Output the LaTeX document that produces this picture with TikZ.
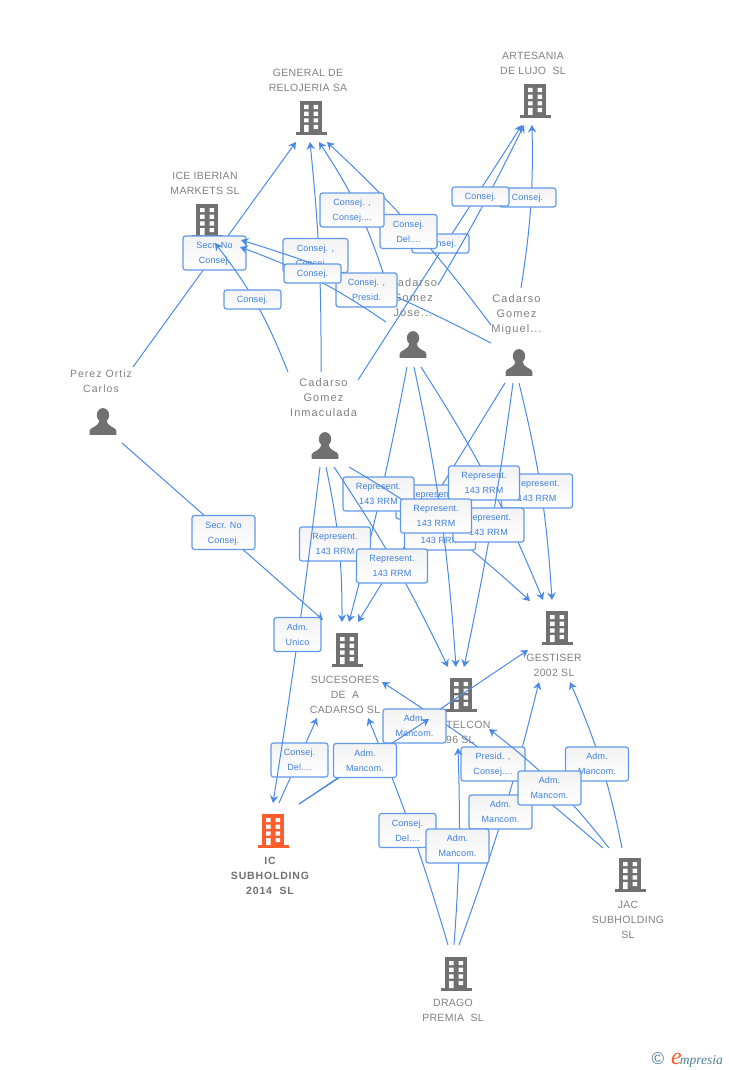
\documentclass[tikz,border=0pt]{standalone}
\usepackage{fontspec}
\setmainfont{Liberation Sans}
\newfontfamily\tagfont[LetterSpace=1.5]{Liberation Sans}
\newfontfamily\entfont[LetterSpace=3]{Liberation Sans}
\newfontfamily\perfont[LetterSpace=10]{Liberation Sans}
\newfontfamily\icsfont[LetterSpace=8]{Liberation Sans}
\newfontfamily\logofont{Liberation Serif}
\usetikzlibrary{arrows.meta}
\definecolor{iconc}{HTML}{707070}
\definecolor{redc}{HTML}{FF5B2B}
\definecolor{linkc}{HTML}{4A8AE6}
\definecolor{boxc}{HTML}{6199EA}
\definecolor{tagc}{HTML}{3D80E0}
\definecolor{entc}{HTML}{808080}
\definecolor{logoc}{HTML}{4E7F96}
\tikzset{
	bldg/.style={minimum width=34pt,minimum height=36pt,inner sep=0pt,
		path picture={\begin{scope}[shift={(path picture bounding box.center)}]
			\fill [#1] (-11,-17) rectangle (11,15);
			\fill [#1] (-15.5,14) rectangle (15.5,17);
			\foreach \wy in {-13,-6.3,.3}
				\fill [white] (-7,\wy) rectangle (-2.5,\wy+4.2) (2.5,\wy) rectangle (7.2,\wy+4.2);
			\fill [white] (2.5,7) rectangle (7.2,11.2) (-7,7) rectangle (-2.5,14);
		\end{scope}}},
	bldg/.default=iconc,
	persn/.style={minimum width=28pt,minimum height=28pt,inner sep=0pt,
		path picture={\begin{scope}[shift={(path picture bounding box.center)}]
			\fill [iconc] (0,-6.4) ellipse (6.2 and 7);
			\fill [iconc] (-13.3,13.4) -- (-13.3,9) .. controls (-13,5.5) and (-4.5,6) .. (-3.8,-1) -- (3.8,-1) .. controls (4.5,6) and (13,5.5) .. (13.3,9) -- (13.3,13.4) -- cycle;
		\end{scope}}},
	ent/.style={font=\entfont\fontsize{10.5}{15}\selectfont,text=entc,align=center,inner sep=0pt},
	per/.style={font=\perfont\fontsize{11}{15}\selectfont,text=entc,align=center,inner sep=0pt},
	link/.style={linkc,line width=1pt,-{Stealth[length=7.5pt,width=8.5pt,inset=2.5pt]}},
	tag/.style={draw=boxc,line width=1.2pt,rounded corners=2.5pt,top color=black!5,bottom color=white,inner sep=0pt,
		font=\tagfont\fontsize{9}{15}\selectfont,text=tagc,align=center,text depth=-.5pt,minimum width=#1pt},
	tagtwo/.style={tag=#1,minimum height=34pt},
	tagone/.style={tag=#1,minimum height=19pt}
}
\begin{document}
\begin{tikzpicture}[x=1pt,y=-1pt]
	\useasboundingbox (0,0) rectangle (728,1070);
	\node [bldg] (gen) at (311,118) {};
	\node [bldg] (art) at (535,101) {};
	\node [bldg] (ice) at (207,221) {};
	\node [bldg] (ges) at (557,628) {};
	\node [bldg] (suc) at (347,650) {};
	\node [bldg] (tel) at (461,695) {};
	\node [bldg=redc] (ics) at (273,831) {};
	\node [bldg] (jac) at (630,875) {};
	\node [bldg] (dra) at (456,974) {};
	\node [persn] (prz) at (103,421.5) {};
	\node [persn] (inm) at (325,445.5) {};
	\node [persn] (jos) at (413,344.5) {};
	\node [persn] (mig) at (519,362.5) {};
	\node [ent] (genT) at (308,80) {GENERAL DE\\RELOJERIA SA};
	\node [ent] (artT) at (533,63) {ARTESANIA\\DE LUJO ~SL};
	\node [ent] (iceT) at (205,183) {ICE IBERIAN\\MARKETS SL};
	\node [ent] (gesT) at (554,665) {GESTISER\\2002 SL};
	\node [ent] (sucT) at (345,694.5) {SUCESORES\\DE ~A\\CADARSO SL};
	\node [ent,align=left,anchor=west] (telT) at (446,732) {TELCON\\96 SL};
	\node [ent] (jacT) at (628,919.5) {JAC\\SUBHOLDING\\SL};
	\node [ent] (draT) at (453,1010) {DRAGO\\PREMIA ~SL};
	\node [ent,font=\icsfont\bfseries\fontsize{10.5}{15}\selectfont,text=iconc] (icsT) at (270,875.5) {IC\\SUBHOLDING\\2014 ~SL};
	\node [per,font=\perfont\fontsize{10.5}{15}\selectfont] (przT) at (101,381.5) {Perez Ortiz\\Carlos};
	\node [per] (inmT) at (323.5,398) {Cadarso\\Gomez\\Inmaculada};
	\node [per] (josT) at (413,298) {Cadarso\\Gomez\\Jose...};
	\node [per] (migT) at (516.5,315) {Cadarso\\Gomez\\Miguel...};

	\draw [link] ([shift={(19,21.5)}]prz.center) -- ([shift={(-24,-30)}]suc.center);
	\node [tagtwo=63] (przSuc) at (223.5,532.5) {Secr. No\\Consej.};
	\draw [link] ([shift={(30,-54.5)}]prz.center) -- ([shift={(-15,24)}]gen.center);
	\node [tagtwo=63] (przGen) at (214.5,253) {Secr. No\\Consej.};
	\draw [link] ([shift={(33,-65.5)}]inm.center) -- ([shift={(-13,24)}]art.center);
	\node [tagone=57] (inmArt) at (440.5,243.5) {Consej.};
	\draw [link] ([shift={(-28,-37.5)}]mig.center) to [bend right=5] ([shift={(16,24)}]gen.center);
	\node [tagtwo=57] (migGen) at (408.5,231.5) {Consej.\\Del....};
	\draw [link] ([shift={(-26,-59.5)}]jos.center) to [bend right=8] ([shift={(8,24)}]gen.center);
	\node [tagtwo=64] (josGen) at (352,210) {Consej. ,\\Consej....};
	\draw [link] ([shift={(2,-74.5)}]mig.center) to [bend right=5] ([shift={(-3,24)}]art.center);
	\node [tagone=57] (migArt) at (527.5,197.5) {Consej.};
	\draw [link] ([shift={(25,-59.5)}]jos.center) to [bend right=2] ([shift={(-11,24)}]art.center);
	\node [tagone=57] (josArt) at (480.5,196.5) {Consej.};
	\draw [link] ([shift={(-4,-73.5)}]inm.center) to [bend right=3] ([shift={(-1,24)}]gen.center);
	\node [tagtwo=65] (inmGen) at (315.5,255.5) {Consej. ,\\Consej....};
	\draw [link] ([shift={(-28,-19.5)}]mig.center) to [bend right=5] ([shift={(34,19)}]ice.center);
	\node [tagtwo=61] (migIce) at (366.5,290) {Consej. ,\\Presid.};
	\draw [link] ([shift={(-37,-73.5)}]inm.center) to [bend right=8] ([shift={(8,22)}]ice.center);
	\node [tagone=57] (inmIce) at (252.5,299.5) {Consej.};
	\draw [link] ([shift={(-27,-22.5)}]jos.center) to [bend right=7] ([shift={(33,26)}]ice.center);
	\node [tagone=57] (josIce) at (312.5,273.5) {Consej.};

	\draw [link] ([shift={(-14,20.5)}]mig.center) -- ([shift={(11,-28)}]suc.center);
	\node [tagtwo=71] (migSuc) at (431.5,502) {Represent.\\143 RRM};
	\draw [link] ([shift={(-6,22.5)}]jos.center) to [bend left=2] ([shift={(2,-28)}]suc.center);
	\node [tagtwo=71] (josSuc) at (378.5,494) {Represent.\\143 RRM};
	\draw [link] ([shift={(24,21.5)}]inm.center) to [bend left=6] ([shift={(-27,-27)}]ges.center);
	\node [tagtwo=71] (inmGes) at (440,533) {Represent.\\143 RRM};
	\draw [link] ([shift={(0,20.5)}]mig.center) to [bend left=5] ([shift={(-5,-28)}]ges.center);
	\node [tagtwo=71] (migGes) at (537,491) {Represent.\\143 RRM};
	\draw [link] ([shift={(8,22.5)}]jos.center) to [bend left=5] ([shift={(-14,-28)}]ges.center);
	\node [tagtwo=71] (josGes) at (484,483) {Represent.\\143 RRM};
	\draw [link] ([shift={(-6,20.5)}]mig.center) to [bend left=2] ([shift={(3,-28)}]tel.center);
	\node [tagtwo=71] (migTel) at (488.5,525) {Represent.\\143 RRM};
	\draw [link] ([shift={(1,21.5)}]inm.center) to [bend left=6] ([shift={(-5,-28)}]suc.center);
	\node [tagtwo=71] (inmSuc) at (335,544) {Represent.\\143 RRM};
	\draw [link] ([shift={(9,21.5)}]inm.center) to [bend left=4] ([shift={(-13,-28)}]tel.center);
	\node [tagtwo=71] (inmTel) at (392,566) {Represent.\\143 RRM};
	\draw [link] ([shift={(1,22.5)}]jos.center) to [bend left=4] ([shift={(-5,-28)}]tel.center);
	\node [tagtwo=71] (josTel) at (436,516) {Represent.\\143 RRM};

	\draw [link] ([shift={(6,-28)}]ics.center) -- ([shift={(-30,68)}]suc.center);
	\node [tagtwo=57] (icsSuc) at (299.5,760) {Consej.\\Del....};
	\draw [link] ([shift={(-5,21.5)}]inm.center) to [bend left=1] ([shift={(0,-28)}]ics.center);
	\node [tagtwo=47] (inmIcs) at (297.5,634.5) {Adm.\\Unico};
	\draw [link] ([shift={(-8,-29)}]dra.center) to [bend right=3] ([shift={(21,68)}]suc.center);
	\node [tagtwo=57] (draSuc) at (407.5,830.5) {Consej.\\Del....};
	\draw [link] ([shift={(3,-29)}]dra.center) to [bend right=3] ([shift={(-18,54)}]ges.center);
	\node [tagtwo=63] (draGes) at (500.5,812) {Adm.\\Mancom.};
	\draw [link] ([shift={(-27,-27)}]jac.center) to [bend right=4] ([shift={(35,32)}]suc.center);
	\node [tagtwo=64] (jacSuc) at (493,764) {Presid. ,\\Consej....};
	\draw [link] ([shift={(26,-27)}]ics.center) -- ([shift={(-29,22)}]ges.center);
	\node [tagtwo=63] (icsGes) at (414.5,726) {Adm.\\Mancom.};
	\draw [link] ([shift={(26,-27)}]ics.center) -- ([shift={(-32,24)}]tel.center);
	\node [tagtwo=63] (icsTel) at (365,760.5) {Adm.\\Mancom.};
	\draw [link] ([shift={(-2,-29)}]dra.center) to [bend right=3] ([shift={(-3,53)}]tel.center);
	\node [tagtwo=63] (draTel) at (457.5,846) {Adm.\\Mancom.};
	\draw [link] ([shift={(-8,-27)}]jac.center) to [bend right=6] ([shift={(13,54)}]ges.center);
	\node [tagtwo=63] (jacGes) at (597,764) {Adm.\\Mancom.};
	\draw [link] ([shift={(-21,-27)}]jac.center) to [bend right=7] ([shift={(28,34)}]tel.center);
	\node [tagtwo=63] (jacTel) at (549.5,788) {Adm.\\Mancom.};

	\node [text=logoc,font=\fontsize{17}{17}\selectfont] (copy) at (658,1058.5) {\textcopyright};
	\node [anchor=base west,inner sep=0pt,text=logoc,font=\logofont\itshape\fontsize{13.5}{15}\selectfont] (logo) at (671,1064) {\textcolor{redc}{\fontsize{24}{24}\selectfont e}\hspace{-2pt}mpresia};
\end{tikzpicture}
\end{document}
